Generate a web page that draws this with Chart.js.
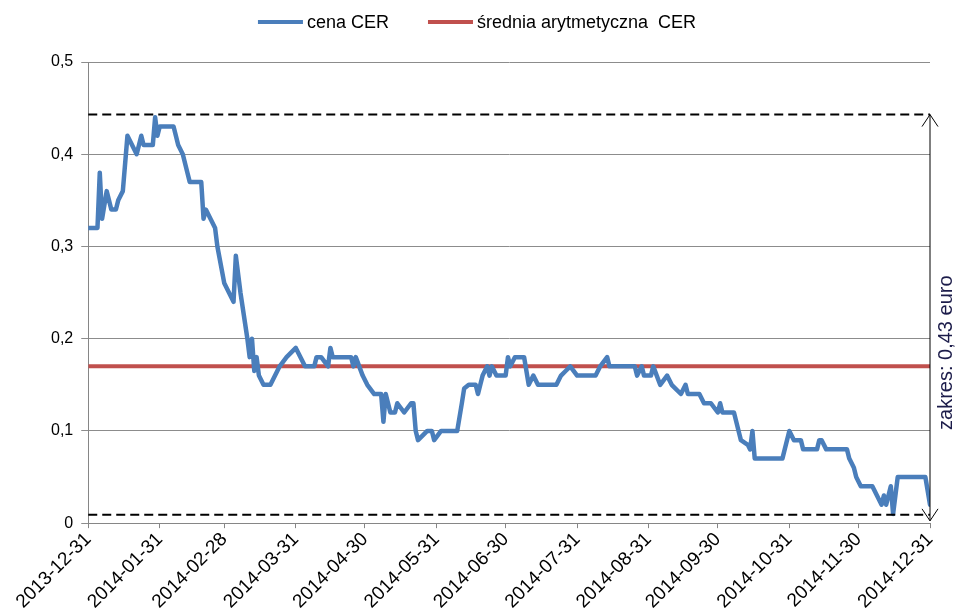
<!DOCTYPE html>
<html lang="pl">

<head>
    <meta charset="UTF-8">
    <title>Cena CER 2014</title>
    <script src="https://cdn.jsdelivr.net/npm/chart.js"></script>
    <style>
        html, body {
            margin: 0;
            padding: 0;
            background: #fff;
        }

        .wykres {
            position: relative;
            width: 958px;
            height: 613px;
        }
    </style>
</head>

<body>
    <div class="wykres">
        <canvas id="myChart"></canvas>
    </div>
    <script>
        // dni liczone od 2013-12-31
        const dni = [0, 4, 5, 6, 8, 10, 12, 13, 15, 17, 21, 23, 24, 28, 29, 30, 31, 37, 39, 41, 43, 44, 49, 50, 51, 53, 55, 56, 59, 63,
            64, 66, 69, 70, 71, 72, 73, 74, 76, 79, 83, 86, 90, 94, 98, 99, 101, 104, 105, 106, 114, 115, 116, 119, 121, 124, 127, 128, 129, 131,
            133, 134, 137, 140, 141, 142, 143, 147, 149, 150, 153, 160, 162, 163, 165, 168, 169, 170, 171, 173, 174, 175, 177, 181, 182, 183, 185, 189, 191, 193,
            195, 203, 205, 207, 209, 212, 220, 222, 225, 226, 237, 238, 240, 241, 244, 245, 248, 251, 253, 257, 259, 260, 265, 267, 270, 273, 274, 275, 280, 282,
            283, 286, 287, 288, 289, 301, 304, 306, 309, 310, 316, 317, 318, 320, 329, 330, 332, 333, 335, 340, 342, 344, 345, 346, 348, 349, 351, 363, 365];

        const cenaCER = [0.32, 0.32, 0.38, 0.33, 0.36, 0.34, 0.34, 0.35, 0.36, 0.42, 0.40, 0.42, 0.41, 0.41, 0.44, 0.42, 0.43, 0.43, 0.41, 0.40, 0.38, 0.37, 0.37, 0.33, 0.34, 0.33, 0.32, 0.30, 0.26, 0.24,
            0.29, 0.25, 0.20, 0.18, 0.20, 0.165, 0.18, 0.16, 0.15, 0.15, 0.17, 0.18, 0.19, 0.17, 0.17, 0.18, 0.18, 0.17, 0.19, 0.18, 0.18, 0.17, 0.18, 0.16, 0.15, 0.14, 0.14, 0.11, 0.14, 0.12,
            0.12, 0.13, 0.12, 0.13, 0.13, 0.10, 0.09, 0.10, 0.10, 0.09, 0.10, 0.10, 0.13, 0.146, 0.15, 0.15, 0.14, 0.15, 0.16, 0.17, 0.16, 0.17, 0.16, 0.16, 0.18, 0.17, 0.18, 0.18, 0.15, 0.16,
            0.15, 0.15, 0.16, 0.165, 0.17, 0.16, 0.16, 0.17, 0.18, 0.17, 0.17, 0.16, 0.17, 0.16, 0.16, 0.17, 0.15, 0.16, 0.15, 0.14, 0.15, 0.14, 0.14, 0.13, 0.13, 0.12, 0.13, 0.12, 0.12, 0.10,
            0.09, 0.085, 0.08, 0.10, 0.07, 0.07, 0.10, 0.09, 0.09, 0.08, 0.08, 0.09, 0.09, 0.08, 0.08, 0.07, 0.06, 0.05, 0.04, 0.04, 0.03, 0.02, 0.03, 0.02, 0.04, 0.01, 0.05, 0.05, 0.02];

        const sredniaCER = 0.17;
        const zakresGora = 0.443;
        const zakresDol = 0.009;
        const zakresTekst = 'zakres: 0,43 euro';

        // etykiety osi X (koniec miesiaca)
        const koncMiesiaca = [0, 31, 59, 90, 120, 151, 181, 212, 243, 273, 304, 334, 365];
        const etykietyX = ['2013-12-31', '2014-01-31', '2014-02-28', '2014-03-31', '2014-04-30', '2014-05-31', '2014-06-30',
            '2014-07-31', '2014-08-31', '2014-09-30', '2014-10-31', '2014-11-30', '2014-12-31'];
        const etykietyY = ['0', '0,1', '0,2', '0,3', '0,4', '0,5'];

        const FONT = '"Liberation Sans", Arial, sans-serif';

        // legenda rysowana recznie (odstepy jak w Excelu)
        const legendaPlugin = {
            id: 'legenda',
            afterDraw(chart) {
                const ctx = chart.ctx;
                const ds = chart.data.datasets;
                ctx.save();
                ctx.font = '18px ' + FONT;
                ctx.textBaseline = 'middle';
                const probka = 45, przerwa = 4, odstep = 39;
                const szer = ds.map(d => probka + przerwa + ctx.measureText(d.label).width);
                const calosc = szer.reduce((a, b) => a + b, 0) + odstep * (ds.length - 1);
                let x = (chart.width - calosc) / 2 - 2;
                const y = 22;
                ds.forEach((d, i) => {
                    ctx.fillStyle = d.borderColor;
                    ctx.fillRect(x, y - 2, probka, 4);
                    ctx.fillStyle = '#000';
                    ctx.fillText(d.label, x + probka + przerwa, y + 1);
                    x += szer[i] + odstep;
                });
                ctx.restore();
            }
        };

        // linie przerywane, strzalka i opis zakresu
        const zakresPlugin = {
            id: 'zakres',
            afterDatasetsDraw(chart) {
                const { ctx, chartArea, scales } = chart;
                const yTop = scales.y.getPixelForValue(zakresGora);
                const yBot = scales.y.getPixelForValue(zakresDol);
                const xR = scales.x.getPixelForValue(365);
                ctx.save();
                ctx.strokeStyle = '#000';
                ctx.lineWidth = 2;
                ctx.setLineDash([9, 5]);
                [yTop, yBot].forEach(yy => {
                    ctx.beginPath();
                    ctx.moveTo(chartArea.left, yy);
                    ctx.lineTo(xR, yy);
                    ctx.stroke();
                });
                ctx.setLineDash([]);
                ctx.lineWidth = 1;
                ctx.beginPath();
                ctx.moveTo(xR, yTop);
                ctx.lineTo(xR, yBot + 6);
                ctx.moveTo(xR - 8, yTop + 12);
                ctx.lineTo(xR, yTop);
                ctx.lineTo(xR + 8, yTop + 12);
                ctx.moveTo(xR - 8, yBot - 6);
                ctx.lineTo(xR, yBot + 6);
                ctx.lineTo(xR + 8, yBot - 6);
                ctx.stroke();

                ctx.translate(xR + 16, (yTop + yBot) / 2 + 38);
                ctx.rotate(-Math.PI / 2);
                ctx.fillStyle = '#1c1c4a';
                ctx.font = '20px ' + FONT;
                ctx.textAlign = 'center';
                ctx.textBaseline = 'middle';
                ctx.fillText(zakresTekst, 0, 0);
                ctx.restore();
            }
        };

        const ctx = document.getElementById('myChart').getContext('2d');
        const chart = new Chart(ctx, {
            type: 'line',
            data: {
                datasets: [{
                    label: 'cena CER',
                    data: dni.map((d, i) => ({ x: d, y: cenaCER[i] })),
                    borderColor: '#4a7ebb',
                    backgroundColor: '#4a7ebb',
                    borderWidth: 4.5,
                    borderJoinStyle: 'round',
                    borderCapStyle: 'round',
                    pointRadius: 0,
                    tension: 0
                }, {
                    label: 'średnia arytmetyczna  CER',
                    data: [{ x: 0, y: sredniaCER }, { x: 365, y: sredniaCER }],
                    borderColor: '#c0504d',
                    backgroundColor: '#c0504d',
                    borderWidth: 4,
                    pointRadius: 0
                }]
            },
            options: {
                responsive: true,
                maintainAspectRatio: false,
                animation: false,
                layout: { padding: { top: 62, right: 28, left: 43, bottom: 0 } },
                plugins: {
                    tooltip: { enabled: false },
                    legend: { display: false }
                },
                scales: {
                    x: {
                        type: 'linear',
                        min: 0,
                        max: 365,
                        afterBuildTicks(scale) {
                            scale.ticks = koncMiesiaca.map(v => ({ value: v }));
                        },
                        ticks: {
                            autoSkip: false,
                            minRotation: 45,
                            maxRotation: 45,
                            color: '#000',
                            font: { family: FONT, size: 19 },
                            padding: 0,
                            callback: (v) => etykietyX[koncMiesiaca.indexOf(v)]
                        },
                        grid: {
                            drawOnChartArea: false,
                            drawTicks: true,
                            tickLength: 5,
                            color: '#868686'
                        },
                        border: { color: '#868686' }
                    },
                    y: {
                        min: 0,
                        max: 0.5,
                        ticks: {
                            stepSize: 0.1,
                            color: '#000',
                            font: { family: FONT, size: 16 },
                            padding: 8,
                            callback: (v) => etykietyY[Math.round(v * 10)]
                        },
                        grid: {
                            color: '#8c8c8c',
                            tickLength: 7
                        },
                        border: { color: '#868686' }
                    }
                }
            },
            plugins: [zakresPlugin, legendaPlugin]
        });
    </script>
</body>

</html>
